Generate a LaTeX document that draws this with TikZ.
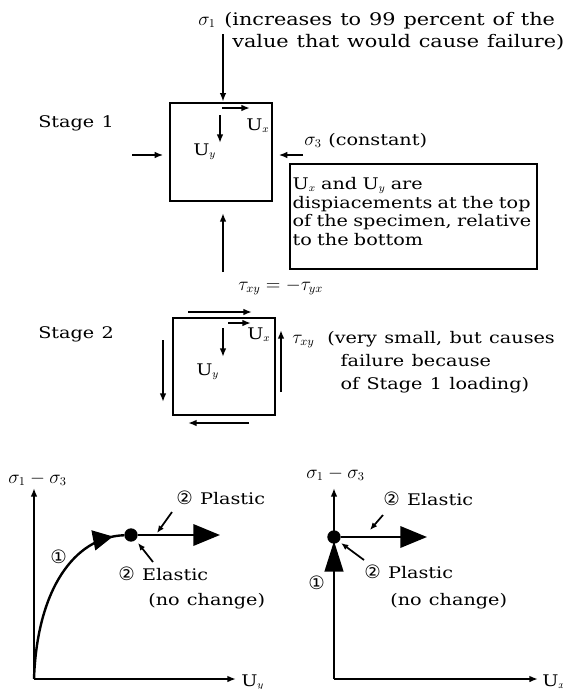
\documentclass[tikz,border=0pt]{standalone}
\usepackage{fontspec}
\setmainfont{DejaVu Serif}[FakeStretch=1.2, WordSpace=1.2]
\newfontfamily\circfont{DejaVu Sans}[Scale=1.15]
\usetikzlibrary{positioning,arrows.meta,decorations.markings}

\newcommand{\cnum}[1]{{\circfont #1}}

\begin{document}
\begin{tikzpicture}[x=0.75pt, y=-0.75pt,
  font=\fontsize{12}{14}\selectfont,
  % plain text label, placed by its baseline
  lbl/.style={inner sep=0pt, anchor=base west},
  % multi-line label, placed by its top left corner
  mlbl/.style={inner sep=0pt, anchor=north west, align=left},
  % math label, a bit larger
  mth/.style={lbl, font=\fontsize{13.5}{16}\selectfont},
  % specimen outline
  spec/.style={draw, line width=2pt, minimum width=76.5pt, minimum height=73.5pt},
  % note box
  note/.style={draw, line width=1.4pt, anchor=north west, align=left,
               inner xsep=2pt, text width=181pt, minimum height=79pt},
  % load / displacement arrow
  ar/.style={-{Latex[length=6.5pt, width=5pt]}, line width=1.5pt},
  % axis
  axis/.style={-{Latex[length=6.5pt, width=5pt]}, line width=1.8pt},
  % small pointer
  ptr/.style={-{Latex[length=5.5pt, width=4.5pt]}, line width=1.3pt},
  % big path arrow
  bigar/.style={-{Triangle[length=20pt, width=16pt]}, line width=1.8pt},
  % state point
  dot/.style={circle, fill, inner sep=0pt, minimum size=10pt},
]
\useasboundingbox (0,0) rectangle (563,689);

% ---------- Stage 1 ----------
\node[lbl] (ST1) at (38,127) {Stage 1};
\node[spec] (S1) at (221,152) {};
\node[mth] (SIG1) at (198,25) {$\sigma_1$};
\node[mlbl, font=\fontsize{13}{16.5}\selectfont] (SIG1T) at (224,12)
  {(increases to 99 percent of the\\\hspace{6pt}value that would cause failure)};
\node[mth] (SIG3) at (304,145) {$\sigma_3$};
\node[lbl] (SIG3T) at (328,145) {(constant)};
\node[lbl] (UX1) at (246,130) {U$_x$};
\node[lbl] (UY1) at (193,155) {U$_y$};
\node[note] (NOTE) at (289,163)
  {U$_x$ and U$_y$ are\\ dispiacements at the top\\ of the specimen, relative\\ to the bottom\\[-6pt]\mbox{}};

\coordinate (T1) at (223,34);
\coordinate (B1) at (223,272);
\coordinate (L1) at (132,155);
\coordinate (R1) at (303,155);
\draw[ar] (T1) -- (T1 |- S1.north);
\draw[ar, shorten >=8pt] (B1) -- (B1 |- S1.south);
\draw[ar, shorten >=4pt] (L1) -- (L1 -| S1.west);
\draw[ar, shorten >=4pt] (R1) -- (R1 -| S1.east);

\coordinate (ux1a) at (222,108);
\coordinate (ux1b) at (250,108);
\coordinate (uy1a) at (220,115);
\coordinate (uy1b) at (220,143);
\draw[ar] (ux1a) -- (ux1b);
\draw[ar] (uy1a) -- (uy1b);

% ---------- Stage 2 ----------
\node[mth] (TAU) at (238,290) {$\tau_{xy} = -\tau_{yx}$};
\node[lbl] (ST2) at (38,338) {Stage 2};
\node[spec, minimum width=76.5pt, minimum height=72.75pt] (S2) at (224,366.5) {};
\node[lbl] (UX2) at (247,339) {U$_x$};
\node[lbl] (UY2) at (196,375) {U$_y$};
\node[mth] (TXY) at (292,343) {$\tau_{xy}$};
\node[mlbl, font=\fontsize{12}{17.25}\selectfont] (TXYT) at (327,331)
  {(very small, but causes\\\hspace{10pt}failure because\\\hspace{10pt}of Stage 1 loading)};

\coordinate (sht_a) at (188,312);
\coordinate (sht_b) at (252,312);
\coordinate (shb_a) at (249,423);
\coordinate (shb_b) at (188,423);
\coordinate (shl_a) at (163,340);
\coordinate (shl_b) at (163,402);
\coordinate (shr_a) at (281,392);
\coordinate (shr_b) at (281,330);
\draw[ar] (sht_a) -- (sht_b);
\draw[ar] (shb_a) -- (shb_b);
\draw[ar] (shl_a) -- (shl_b);
\draw[ar] (shr_a) -- (shr_b);

\coordinate (ux2a) at (228,323);
\coordinate (ux2b) at (251,323);
\coordinate (uy2a) at (223,328);
\coordinate (uy2b) at (223,357);
\draw[ar] (ux2a) -- (ux2b);
\draw[ar] (uy2a) -- (uy2b);

% ---------- Left graph: sigma1-sigma3 vs Uy ----------
\coordinate (O1) at (34,679);
\coordinate (Y1) at (34,488);
\coordinate (X1) at (236,679);
\draw[axis] (O1) -- (Y1);
\draw[axis] (O1) -- (X1);
\node[mth] (GY1) at (8,483) {$\sigma_1-\sigma_3$};
\node[lbl] (GX1) at (241,686) {U$_y$};

\node[dot] (D1) at (131,535) {};
\coordinate (E1) at (220,535);
\draw[line width=1.8pt, decoration={markings,
      mark=at position 0.94 with {\arrow{Triangle[length=15pt, width=15pt]}}},
      postaction={decorate}]
  (O1) .. controls (37,590) and (74,537) .. (D1);
\draw[bigar] (D1) -- (E1);

\node[lbl] (C1L) at (50,563) {\cnum{①}};
\node[lbl] (PL1) at (176,504) {\cnum{②} Plastic};
\node[lbl] (EL1) at (118,580) {\cnum{②} Elastic};
\node[lbl] (NC1) at (148,605) {(no change)};
\coordinate (p1a) at (172,512);
\coordinate (p1b) at (157,533);
\coordinate (e1a) at (153,562);
\coordinate (e1b) at (138,543);
\draw[ptr] (p1a) -- (p1b);
\draw[ptr] (e1a) -- (e1b);

% ---------- Right graph: sigma1-sigma3 vs Ux ----------
\coordinate (O2) at (334,679);
\coordinate (Y2) at (334,488);
\coordinate (X2) at (538,679);
\draw[axis] (O2) -- (Y2);
\draw[axis] (O2) -- (X2);
\node[mth] (GY2) at (306,478) {$\sigma_1-\sigma_3$};
\node[lbl] (GX2) at (542,686) {U$_x$};

\node[dot] (D2) at (334,537) {};
\coordinate (E2) at (427,537);
\coordinate (A2) at (334,568);
\coordinate (A2t) at (334,541);
\draw[-{Triangle[length=23pt, width=14pt]}, line width=1.8pt] (A2) -- (A2t);
\draw[bigar] (D2) -- (E2);

\node[lbl] (C1R) at (308,589) {\cnum{①}};
\node[lbl] (EL2) at (383,505) {\cnum{②} Elastic};
\node[lbl] (PL2) at (364,578) {\cnum{②} Plastic};
\node[lbl] (NC2) at (390,605) {(no change)};
\coordinate (e2a) at (383,515);
\coordinate (e2b) at (370,530);
\coordinate (p2a) at (364,560);
\coordinate (p2b) at (341,543);
\draw[ptr] (e2a) -- (e2b);
\draw[ptr] (p2a) -- (p2b);

\end{tikzpicture}
\end{document}
